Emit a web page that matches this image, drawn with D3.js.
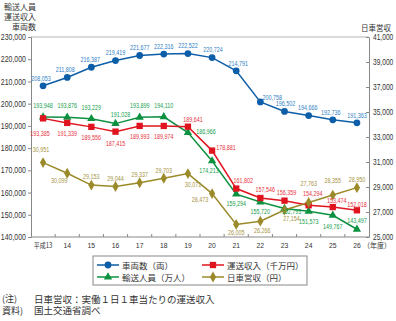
<!DOCTYPE html>
<html>
<head>
<meta charset="utf-8">
<script src="https://cdn.jsdelivr.net/npm/d3@7"></script>
<style>
  body { margin: 0; background: #fff; }
  svg { display: block; }
  .num { font-family: "Liberation Sans", Arial, sans-serif; }
  .jp { font-family: "Noto Sans CJK JP", sans-serif; }
</style>
</head>
<body>
<div id="chart"></div>
<script>
const width = 396;
const height = 321;

// Data
const years = ["平成13", "14", "15", "16", "17", "18", "19", "20", "21", "22", "23", "24", "25", "26"];
const vehicles = [208053, 211808, 216387, 219419, 221677, 222316, 222522, 220724, 214791, 200758, 196502, 194666, 192736, 191363];
const revenue = [193385, 191339, 189556, 187415, 189993, 189974, 189641, 178881, 161802, 157546, 156359, 154294, 153474, 152018];
const passengers = [193948, 193876, 193229, 191028, 193899, 194110, 186966, 174213, 159294, 155720, 152793, 151573, 149767, 143497];
const dailyRevenue = [30951, 30099, 29153, 29044, 29337, 29703, 30071, 28473, 26005, 26266, 27154, 27763, 28355, 28950];
const leftTicks = [140000, 150000, 160000, 170000, 180000, 190000, 200000, 210000, 220000, 230000];
const rightTicks = [25000, 27000, 29000, 31000, 33000, 35000, 37000, 39000, 41000];

// label offsets (layout only)
const blueOff = [[-2,-8],[-2,-8],[-1,-8],[0,-8],[0,-8],[0,-8],[0,-8],[1,-8],[2,-8],[12,-5],[1,-8],[-1,-8],[-2,-8],[0,-8]];
const redOff = [[-3,15],[0,10],[0,10],[0,11],[0,10],[0,10],[5,-8],[14,-3],[7,-8],[5,-9],[2,-9],[4,-12],[4,-7],[0,-6]];
const greenOff = [[0,-12],[0,-12],[0,-12],[5,-9],[0,-12],[0,-12],[18,-2],[-3,9],[0,9],[0,9],[7,3],[0,10],[0,11],[0,-9]];
const oliveOff = [[-2,-13],[-8,7],[0,-9],[0,-8],[0,-9],[0,-8],[5,11],[-12,6],[0,8],[2,9],[7,8],[0,-19],[0,-15],[0,-8]];

const plot = { left: 31, right: 369, top: 37, bottom: 237 };

const svg = d3.select("#chart")
    .append("svg")
    .attr("width", width)
    .attr("height", height);

// squeeze text horizontally around its anchor (the original uses a condensed face)
function condense(sel, k) {
    sel.each(function () {
        const t = d3.select(this);
        const tx = +t.attr("x") || 0;
        const ty = +t.attr("y") || 0;
        t.attr("x", 0).attr("y", 0)
            .attr("transform", `translate(${tx},${ty}) scale(${k},1)`);
    });
}

const x = d3.scaleBand()
    .domain(years)
    .range([plot.left, plot.right]);

const yL = d3.scaleLinear()
    .domain([140000, 230000])
    .range([plot.bottom, plot.top]);

const yR = d3.scaleLinear()
    .domain([25000, 41000])
    .range([plot.bottom, plot.top]);

const cx = d => x(d) + x.bandwidth() / 2;
const fmt = d3.format(",");

// frame
svg.append("line")
    .attr("x1", plot.left).attr("x2", plot.right)
    .attr("y1", plot.top).attr("y2", plot.top)
    .attr("stroke", "#b5b5b5").attr("stroke-width", 1.2);

// left axis
const gL = svg.append("g")
    .attr("transform", `translate(${plot.left},0)`)
    .call(d3.axisLeft(yL).tickValues(leftTicks).tickFormat(fmt).tickSize(3).tickPadding(2));
gL.select(".domain").attr("stroke", "#888");
gL.selectAll(".tick line").attr("stroke", "#888");
gL.selectAll("text").attr("class", "num").attr("font-size", 8.3).attr("fill", "#333")
    .call(condense, 0.84);

// right axis (ticks inside)
const gR = svg.append("g")
    .attr("transform", `translate(${plot.right},0)`)
    .call(d3.axisRight(yR).tickValues(rightTicks).tickFormat(fmt).tickSizeInner(-3).tickSizeOuter(0).tickPadding(4));
gR.select(".domain").attr("stroke", "#888");
gR.selectAll(".tick line").attr("stroke", "#888");
gR.selectAll("text").attr("class", "num").attr("font-size", 8.3).attr("fill", "#333")
    .call(condense, 0.8);

// bottom axis
svg.append("line")
    .attr("x1", plot.left).attr("x2", plot.right)
    .attr("y1", plot.bottom).attr("y2", plot.bottom)
    .attr("stroke", "#888");

svg.append("g")
    .selectAll("line")
    .data(years.slice(1))
    .join("line")
    .attr("x1", d => x(d)).attr("x2", d => x(d))
    .attr("y1", plot.bottom).attr("y2", plot.bottom - 3)
    .attr("stroke", "#888");

svg.append("g")
    .selectAll("text")
    .data(years)
    .join("text")
    .attr("class", (d, i) => i === 0 ? "jp" : "num")
    .attr("x", d => cx(d))
    .attr("y", 245)
    .attr("text-anchor", "middle")
    .attr("dominant-baseline", "central")
    .attr("font-size", (d, i) => i === 0 ? 7 : 8)
    .attr("fill", "#333")
    .text(d => d)
    .call(condense, 0.85);

svg.append("text")
    .attr("class", "jp")
    .attr("x", cx("26") + 6)
    .attr("y", 245)
    .attr("dominant-baseline", "central")
    .attr("font-size", 7)
    .attr("fill", "#333")
    .text("（年度）");

// axis titles
["輸送人員", "運送収入", "車両数"].forEach((t, i) => {
    svg.append("text")
        .attr("class", "jp")
        .attr("x", 36)
        .attr("y", 6.5 + i * 10)
        .attr("text-anchor", "end")
        .attr("dominant-baseline", "central")
        .attr("font-size", 8)
        .attr("fill", "#333")
        .text(t);
});
svg.append("text")
    .attr("class", "jp")
    .attr("x", 391)
    .attr("y", 27)
    .attr("text-anchor", "end")
    .attr("dominant-baseline", "central")
    .attr("font-size", 7.5)
    .attr("fill", "#333")
    .text("日車営収");

// series
const series = [
    { name: "車両数（両）", values: vehicles, y: yL, color: "#0d5ea8", text: "#2f80c4", symbol: d3.symbolCircle, size: 36, off: blueOff },
    { name: "輸送人員（万人）", values: passengers, y: yL, color: "#0c9140", text: "#17a04e", symbol: d3.symbolTriangle, size: 30, off: greenOff },
    { name: "運送収入（千万円）", values: revenue, y: yL, color: "#e0141f", text: "#e8323c", symbol: d3.symbolSquare, size: 40, off: redOff },
    { name: "日車営収（円）", values: dailyRevenue, y: yR, color: "#9b8a2a", text: "#a6943f", symbol: d3.symbolDiamond, size: 34, off: oliveOff }
];

series.forEach(s => {
    const line = d3.line()
        .x((d, i) => cx(years[i]))
        .y(d => s.y(d));

    svg.append("path")
        .datum(s.values)
        .attr("fill", "none")
        .attr("stroke", s.color)
        .attr("stroke-width", 1.5)
        .attr("d", line);
});

series.forEach(s => {
    svg.append("g")
        .selectAll("path")
        .data(s.values)
        .join("path")
        .attr("transform", (d, i) => `translate(${cx(years[i])},${s.y(d)})`)
        .attr("d", d3.symbol().type(s.symbol).size(s.size))
        .attr("fill", s.color);
});

series.forEach(s => {
    svg.append("g")
        .selectAll("text")
        .data(s.values)
        .join("text")
        .attr("class", "num")
        .attr("x", (d, i) => cx(years[i]) + s.off[i][0])
        .attr("y", (d, i) => s.y(d) + s.off[i][1])
        .attr("text-anchor", "middle")
        .attr("dominant-baseline", "central")
        .attr("font-size", 7.5)
        .attr("fill", s.text)
        .text(d => fmt(d))
        .call(condense, 0.72);
});

// legend
const legend = svg.append("g");
legend.append("rect")
    .attr("x", 93).attr("y", 256)
    .attr("width", 214).attr("height", 29)
    .attr("fill", "#fff")
    .attr("stroke", "#888");

const legendOrder = [series[0], series[2], series[1], series[3]];
legendOrder.forEach((s, i) => {
    const col = i % 2, row = Math.floor(i / 2);
    const lx = col === 0 ? 97 : 202;
    const ly = 265 + row * 12;
    const item = legend.append("g");
    item.append("line")
        .attr("x1", lx).attr("x2", lx + 22)
        .attr("y1", ly).attr("y2", ly)
        .attr("stroke", s.color).attr("stroke-width", 1.5);
    item.append("path")
        .attr("transform", `translate(${lx + 11},${ly})`)
        .attr("d", d3.symbol().type(s.symbol).size(s.size))
        .attr("fill", s.color);
    item.append("text")
        .attr("class", "jp")
        .attr("x", lx + 25)
        .attr("y", ly)
        .attr("dominant-baseline", "central")
        .attr("font-size", 8.5)
        .attr("fill", "#333")
        .text(s.name);
});

// notes
const notes = [["(注)", "日車営収：実働１日１車当たりの運送収入"], ["資料)", "国土交通省調べ"]];
notes.forEach((n, i) => {
    svg.append("text")
        .attr("class", "jp")
        .attr("x", 2).attr("y", 298.5 + i * 11.5)
        .attr("dominant-baseline", "central")
        .attr("font-size", 9)
        .attr("fill", "#333")
        .text(n[0]);
    svg.append("text")
        .attr("class", "jp")
        .attr("x", 34).attr("y", 298.5 + i * 11.5)
        .attr("dominant-baseline", "central")
        .attr("font-size", 9.5)
        .attr("fill", "#333")
        .text(n[1]);
});
</script>
</body>
</html>
